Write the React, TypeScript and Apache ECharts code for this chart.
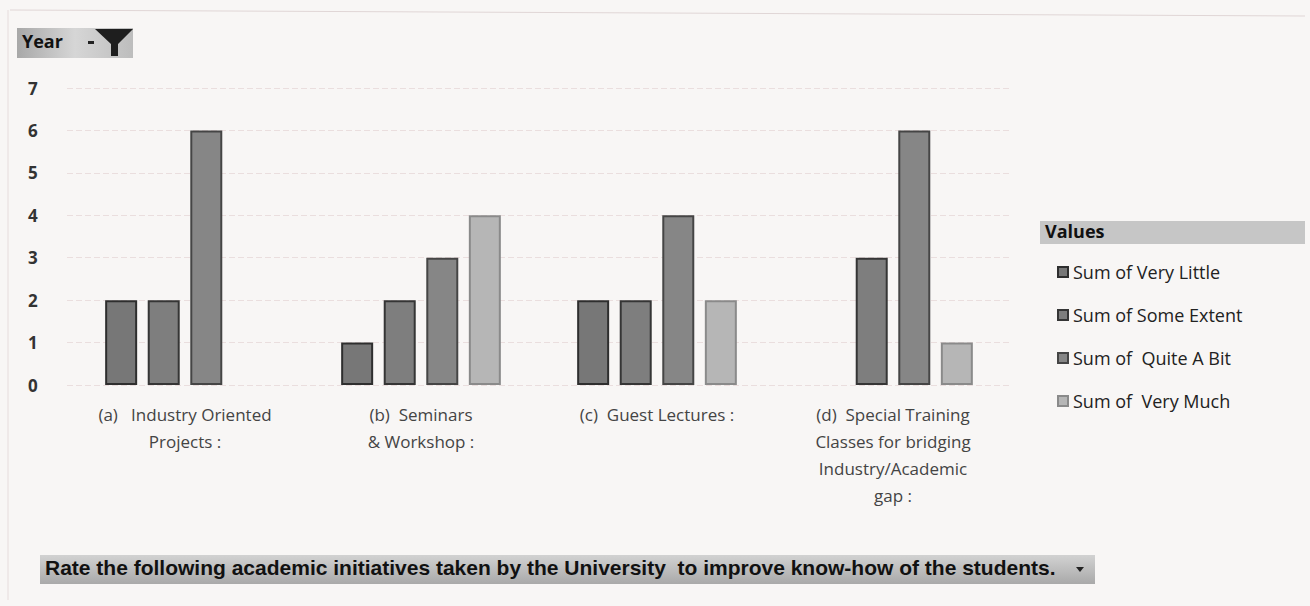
import React, { useEffect, useRef } from "react";
import * as echarts from "echarts";

const categories = [
  "(a)   Industry Oriented\nProjects :",
  "(b)  Seminars\n& Workshop :",
  "(c)  Guest Lectures :",
  "(d)  Special Training\nClasses for bridging\nIndustry/Academic\ngap :",
];
const seriesNames = [
  "Sum of Very Little",
  "Sum of Some Extent",
  "Sum of  Quite A Bit",
  "Sum of  Very Much",
];
const veryLittle = [2, 1, 2, null];
const someExtent = [2, 2, 2, 3];
const quiteABit = [6, 3, 4, 6];
const veryMuch = [null, 4, 2, 1];
const yTicks = [0, 1, 2, 3, 4, 5, 6, 7];

const fills = ["#777777", "#7e7e7e", "#868686", "#b6b6b6"];
const borders = ["#2e2e2e", "#353535", "#454545", "#8a8a8a"];

export default function App() {
  const ref = useRef<HTMLDivElement>(null);
  useEffect(() => {
    document.body.style.margin = "0";
    const chart = echarts.init(ref.current!, null, { renderer: "svg" });
    const values = [veryLittle, someExtent, quiteABit, veryMuch];
    const font = "'Open Sans', 'Noto Sans', sans-serif";
    chart.setOption({
      animation: false,
      backgroundColor: "#f8f6f5",
      textStyle: { fontFamily: font },
      grid: { left: 67, right: 299, top: 88, bottom: 221 },
      legend: {
        orient: "vertical",
        left: 1052,
        top: 258,
        itemWidth: 10,
        itemHeight: 10,
        itemGap: 25,
        icon: "rect",
        data: seriesNames,
        textStyle: { fontSize: 18, color: "#222", fontFamily: font },
      },
      xAxis: {
        type: "category",
        data: categories,
        axisLine: { show: false },
        axisTick: { show: false },
        axisLabel: {
          interval: 0,
          fontSize: 17,
          lineHeight: 27,
          color: "#444",
          margin: 16,
          fontFamily: font,
        },
      },
      yAxis: {
        type: "value",
        min: 0,
        max: 7,
        interval: 1,
        axisLine: { show: false },
        axisTick: { show: false },
        axisLabel: {
          fontSize: 17,
          fontWeight: "bold",
          color: "#333",
          margin: 39,
          align: "left",
          formatter: (v: number) => (yTicks.includes(v) ? String(v) : ""),
        },
        splitLine: { lineStyle: { color: "#eadede", width: 1, type: [6, 3] } },
      },
      series: seriesNames.map((name, i) => ({
        name,
        type: "bar",
        data: values[i].map((v) => (v === null ? "-" : v)),
        barWidth: 32,
        barGap: "33%",
        itemStyle: { color: fills[i], borderColor: borders[i], borderWidth: 2 },
      })),
      graphic: [
        {
          type: "rect",
          shape: { x: 17, y: 28, width: 116, height: 30 },
          style: {
            fill: new echarts.graphic.LinearGradient(0, 0, 1, 0, [
              { offset: 0, color: "#a8a8a8" },
              { offset: 0.5, color: "#d6d6d6" },
              { offset: 1, color: "#bdbdbd" },
            ]),
          },
        },
        {
          type: "text",
          left: 22,
          top: 32,
          style: { text: "Year", fontSize: 18, fontWeight: "bold", fill: "#111", fontFamily: font },
        },
        {
          type: "rect",
          shape: { x: 88, y: 41, width: 6, height: 3 },
          style: { fill: "#222" },
        },
        {
          type: "polygon",
          shape: {
            points: [
              [95, 29], [133, 29], [118, 44], [118, 56], [111, 56], [111, 44],
            ],
          },
          style: { fill: "#1e1e1e" },
        },
        {
          type: "rect",
          shape: { x: 1040, y: 221, width: 265, height: 23 },
          style: { fill: "#c6c6c6" },
        },
        {
          type: "text",
          left: 1045,
          top: 222,
          style: { text: "Values", fontSize: 18, fontWeight: "bold", fill: "#111", fontFamily: font },
        },
        {
          type: "rect",
          shape: { x: 40, y: 555, width: 1055, height: 29 },
          style: {
            fill: new echarts.graphic.LinearGradient(0, 0, 0, 1, [
              { offset: 0, color: "#d2d2d2" },
              { offset: 1, color: "#a9a9a9" },
            ]),
          },
        },
        {
          type: "text",
          left: 45,
          top: 557,
          style: {
            text: "Rate the following academic initiatives taken by the University  to improve know-how of the students.",
            fontSize: 21,
            fontWeight: "bold",
            fill: "#111",
            fontFamily: "'Liberation Sans', sans-serif",
          },
        },
        {
          type: "polygon",
          shape: { points: [[1076, 567], [1084, 567], [1080, 572]] },
          style: { fill: "#222" },
        },
        {
          type: "line",
          shape: { x1: 10, y1: 10, x2: 1305, y2: 16 },
          style: { stroke: "#e0d6d6", lineWidth: 1 },
        },
        {
          type: "line",
          shape: { x1: 8, y1: 10, x2: 8, y2: 600 },
          style: { stroke: "#e6dcdc", lineWidth: 1 },
        },
      ],
    });
    return () => chart.dispose();
  }, []);
  return <div ref={ref} style={{ width: 1310, height: 606 }} />;
}
